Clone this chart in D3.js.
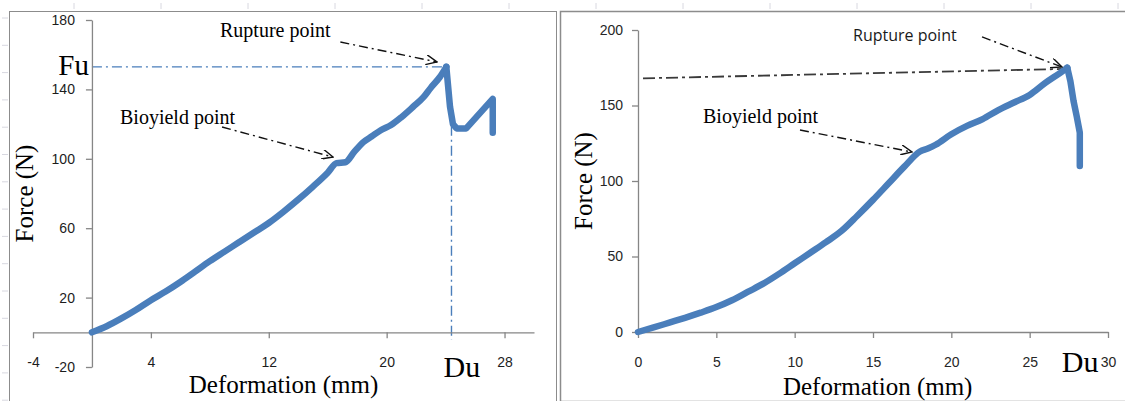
<!DOCTYPE html>
<html>
<head>
<meta charset="utf-8">
<script src="https://cdn.jsdelivr.net/npm/d3@7"></script>
<style>
  html, body { margin: 0; padding: 0; background: #fff; }
  svg { display: block; }
</style>
</head>
<body>
<svg id="chart" width="1125" height="401"></svg>
<script>
// left sample (first test)
const leftDeformation = [0, 1, 2, 3, 4, 5, 6, 7, 8, 9, 10, 11, 12, 13, 14, 15, 16, 16.6, 17.2, 17.8, 18.4, 19, 19.6, 20.3, 21, 21.8, 22.5, 23, 23.6, 24.05, 24.3, 24.5, 24.75, 25.4, 26.3, 27.2, 27.2];
const leftForce = [0, 3.5, 8, 13, 18.5, 23.5, 29, 35, 41, 46.5, 52, 57.5, 63, 69.5, 76.5, 84, 92, 97.5, 98, 104, 109.5, 113, 116.5, 119.5, 124, 130, 135.5, 141, 147, 153, 130, 120, 117.5, 117.5, 126, 134.5, 115];

// right sample (second test)
const rightDeformation = [0, 1, 2, 3, 4, 5, 6, 7, 8, 9, 10, 11, 12, 13, 14, 15, 16, 17, 18, 18.5, 19, 20, 21, 22, 23, 24, 25, 26, 27, 27.4, 27.6, 27.8, 28, 28.2, 28.2];
const rightForce = [0, 3, 6.2, 9.4, 12.8, 16.5, 21, 26.5, 32, 38.5, 45.5, 52.5, 59.5, 67, 77, 87.5, 98.5, 109.5, 119.5, 121.5, 124, 131, 136.5, 141, 147, 152, 157, 165, 172, 175, 166, 153, 143, 132, 110];

const leftXTicks = [-4, 4, 12, 20, 28];
const leftYTicks = [-20, 20, 60, 100, 140, 180];
const rightXTicks = [0, 5, 10, 15, 20, 25, 30];
const rightYTicks = [0, 50, 100, 150, 200];

const leftFu = 153;
const leftDu = 24.4;

const svg = d3.select("#chart");
const blue = "#4a7ebb";
const axisGrey = "#868686";
const serif = "'Liberation Serif', 'DejaVu Serif', serif";
const sans = "'Liberation Sans', Arial, sans-serif";

// open arrowhead used by the annotation arrows
svg.append("defs")
    .append("marker")
    .attr("id", "arrow")
    .attr("viewBox", "0 0 12 10")
    .attr("refX", 11)
    .attr("refY", 5)
    .attr("markerWidth", 12)
    .attr("markerHeight", 10)
    .attr("markerUnits", "userSpaceOnUse")
    .attr("orient", "auto")
    .append("path")
    .attr("d", "M0,0 L11,5 L0,10")
    .attr("fill", "none")
    .attr("stroke", "#111")
    .attr("stroke-width", 1.4);

// faint spreadsheet marks behind the charts
svg.append("g")
    .selectAll("line")
    .data(d3.range(74, 1125, 87))
    .join("line")
    .attr("x1", d => d).attr("x2", d => d)
    .attr("y1", 3).attr("y2", 9)
    .attr("stroke", "#d8d8e0");
svg.append("g")
    .selectAll("line")
    .data(d3.range(18, 401, 27.3))
    .join("line")
    .attr("x1", 2).attr("x2", 8)
    .attr("y1", d => d).attr("y2", d => d)
    .attr("stroke", "#d8d8e0");

// chart frames
svg.append("rect")
    .attr("x", 9.5).attr("y", 11.5)
    .attr("width", 547).attr("height", 390)
    .attr("fill", "#fff")
    .attr("stroke", "#8c8c8c");
svg.append("rect")
    .attr("x", 560.5).attr("y", 11.5)
    .attr("width", 580).attr("height", 390)
    .attr("fill", "#fff")
    .attr("stroke", "#8c8c8c")
    .attr("stroke-width", 1.5);

function drawAxes(x, y, xTicks, yTicks, xLabelOffset, yPad, labelColor) {
    const xAxis = svg.append("g")
        .attr("transform", `translate(0,${y(0)})`)
        .call(d3.axisBottom(x)
            .tickValues(xTicks)
            .tickSize(6)
            .tickSizeOuter(0)
            .tickPadding(xLabelOffset)
            .tickFormat(d => String(d)));

    const yAxis = svg.append("g")
        .attr("transform", `translate(${x(0)},0)`)
        .call(d3.axisLeft(y)
            .tickValues(yTicks)
            .tickSize(6)
            .tickSizeOuter(0)
            .tickPadding(yPad)
            .tickFormat(d => String(d)));

    [xAxis, yAxis].forEach(g => {
        g.select(".domain").attr("stroke", axisGrey).attr("stroke-width", 1.3);
        g.selectAll(".tick line").attr("stroke", axisGrey).attr("stroke-width", 1.3);
        g.selectAll(".tick text")
            .attr("fill", labelColor)
            .style("font-family", sans)
            .style("font-size", "14px");
    });
    return xAxis;
}

// rising part is smooth, the part after rupture is drawn straight
function drawCurve(x, y, xs, ys) {
    const pts = xs.map((d, i) => [d, ys[i]]);
    const peak = d3.maxIndex(ys);
    const parts = [
        [pts.slice(0, peak + 1), d3.curveMonotoneX],
        [pts.slice(peak), d3.curveLinear]
    ];
    parts.forEach(([p, curve]) => {
        svg.append("path")
            .datum(p)
            .attr("d", d3.line()
                .curve(curve)
                .x(d => x(d[0]))
                .y(d => y(d[1])))
            .attr("fill", "none")
            .attr("stroke", blue)
            .attr("stroke-width", 6.5)
            .attr("stroke-linejoin", "round")
            .attr("stroke-linecap", "round");
    });
}

function arrow(x, y, from, to) {
    svg.append("line")
        .attr("x1", x(from[0])).attr("y1", y(from[1]))
        .attr("x2", x(to[0])).attr("y2", y(to[1]))
        .attr("stroke", "#111")
        .attr("stroke-width", 1.4)
        .attr("stroke-dasharray", "9,4,2,4")
        .attr("marker-end", "url(#arrow)");
}

function label(px, py, text, family, size, anchor) {
    return svg.append("text")
        .attr("x", px)
        .attr("y", py)
        .attr("text-anchor", anchor || "start")
        .style("font-family", family)
        .style("font-size", size + "px")
        .attr("fill", "#000")
        .text(text);
}

// ---- left chart ----
const xL = d3.scaleLinear().domain([-4, 30]).range([33, 534]);
const yL = d3.scaleLinear().domain([-20, 180]).range([367, 20]);

// Fu / Du guide lines
svg.append("line")
    .attr("x1", xL(0)).attr("x2", xL(24.05))
    .attr("y1", yL(leftFu)).attr("y2", yL(leftFu))
    .attr("stroke", blue).attr("stroke-width", 1.4)
    .attr("stroke-dasharray", "10,4,2,4");
svg.append("line")
    .attr("x1", xL(leftDu)).attr("x2", xL(leftDu))
    .attr("y1", yL(119)).attr("y2", yL(-4.5))
    .attr("stroke", blue).attr("stroke-width", 1.4)
    .attr("stroke-dasharray", "10,4,2,4");

drawAxes(xL, yL, leftXTicks, leftYTicks, 19, 11, "#1c1c1c");
drawCurve(xL, yL, leftDeformation, leftForce);

label(xL(0) - 3, yL(leftFu) + 8, "Fu", serif, 29, "end");
label(xL(leftDu) - 8, 377, "Du", serif, 30);

label(220, 37, "Rupture point", serif, 20);
arrow(xL, yL, [16.86, 167.3], [23.42, 155.8]);
label(120, 124, "Bioyield point", serif, 20);
arrow(xL, yL, [8.83, 118.3], [16.36, 101]);

label(xL(13), 393, "Deformation (mm)", serif, 25, "middle");
label(0, 0, "Force (N)", serif, 25, "middle")
    .attr("transform", `translate(33,${yL(80)}) rotate(-90)`);

// ---- right chart ----
const xR = d3.scaleLinear().domain([0, 30]).range([638, 1108]);
const yR = d3.scaleLinear().domain([0, 200]).range([332, 30]);

svg.append("line")
    .attr("x1", xR(0.32)).attr("y1", yR(168))
    .attr("x2", xR(27.06)).attr("y2", yR(174.2))
    .attr("stroke", "#3a3a3a").attr("stroke-width", 1.8)
    .attr("stroke-dasharray", "12,4,3,4");

drawAxes(xR, yR, rightXTicks, rightYTicks, 19, 9, "#262626");
drawCurve(xR, yR, rightDeformation, rightForce);

label(xR(27.05), 372, "Du", serif, 30);
label(853, 41, "Rupture point", "'Open Sans', sans-serif", 16)
    .attr("fill", "#1a1a1a");
arrow(xR, yR, [21.96, 195.4], [27.06, 175.5]);
label(703, 123, "Bioyield point", serif, 20);
arrow(xR, yR, [10.34, 133.8], [17.49, 119.2]);

label(xR(15.3), 395, "Deformation (mm)", serif, 25, "middle");
label(0, 0, "Force (N)", serif, 25, "middle")
    .attr("transform", `translate(592,${yR(100)}) rotate(-90)`);
</script>
</body>
</html>
